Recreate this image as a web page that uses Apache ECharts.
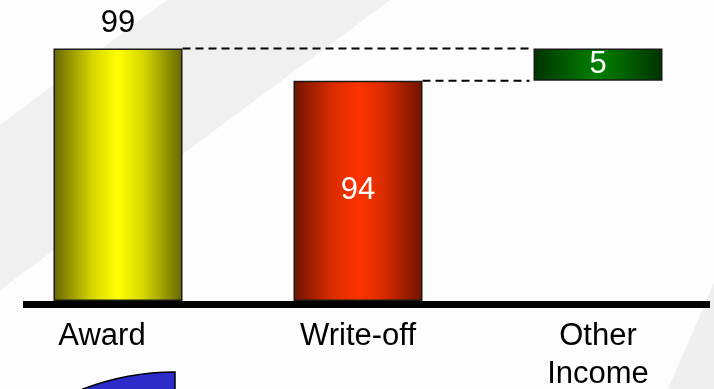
<!DOCTYPE html>
<html>
<head>
<meta charset="utf-8">
<script src="https://cdn.jsdelivr.net/npm/echarts@6/dist/echarts.min.js"></script>
<style>
  html, body { margin: 0; padding: 0; background: #fdfdfd; }
  #chart { width: 714px; height: 389px; }
</style>
</head>
<body>
<div id="chart"></div>
<script>
// chart data
const categories = ['Award', 'Write-off', 'Other\nIncome'];
const mainValues = [99, 94, '-'];      // full bars from the baseline
const floatBase = ['-', '-', 94];      // invisible offset for the floating bar
const floatValues = ['-', '-', 5];     // floating "Other Income" piece
// dashed connectors: [from category, to category, level]
const connectors = [[0, 2, 99], [1, 2, 94]];

const FONT = "'Liberation Sans', Arial, sans-serif";
const BAR_W = 129;

function hGrad(edge, mid, center) {
  return {
    type: 'linear', x: 0, y: 0, x2: 1, y2: 0,
    colorStops: [
      { offset: 0, color: edge },
      { offset: 0.3, color: mid },
      { offset: 0.5, color: center },
      { offset: 0.7, color: mid },
      { offset: 1, color: edge }
    ]
  };
}

const yellow = hGrad('#666600', '#d6d600', '#ffff00');
const red = hGrad('#6e1300', '#d92c00', '#ff3300');
const green = hGrad('#003300', '#006200', '#008000');

const chart = echarts.init(document.getElementById('chart'));

chart.setOption({
  backgroundColor: '#fdfdfd',
  animation: false,
  textStyle: { fontFamily: FONT },
  grid: { left: -2, right: -4, top: 42, bottom: 88, outerBoundsMode: 'none' },
  xAxis: {
    type: 'category',
    // the first label sits a bit left of its bar in the original
    data: categories.map((c, i) => i === 0 ? { value: c, textStyle: { padding: [0, 32, 0, 0] } } : c),
    axisLine: { show: false },
    axisTick: { show: false },
    axisLabel: {
      color: '#000', fontSize: 31, fontFamily: FONT,
      margin: 16, lineHeight: 38, interval: 0
    }
  },
  yAxis: {
    type: 'value',
    min: 60, max: 100, startValue: 60,
    show: false,
    splitLine: { show: false }
  },
  graphic: [
    // light diagonal bands in the background
    { type: 'polygon', z: -10, shape: { points: [[0, 125], [167, 0], [390, 0], [0, 290]] },
      style: { fill: '#f0f0f0' }, silent: true },
    { type: 'polygon', z: -10, shape: { points: [[714, 283], [714, 389], [668, 389]] },
      style: { fill: '#efefef' }, silent: true },
    // baseline
    { type: 'rect', z: 10, shape: { x: 23, y: 301, width: 687, height: 7 },
      style: { fill: '#000' }, silent: true },
    // blue decoration at the bottom
    { type: 'sector', z: 5,
      shape: { cx: 175, cy: 629, r: 257, r0: 0,
               startAngle: -111 * Math.PI / 180, endAngle: -Math.PI / 2, clockwise: true },
      style: { fill: '#2c2ccb', stroke: '#000', lineWidth: 1.5 }, silent: true }
  ],
  series: [
    {
      name: 'main',
      type: 'bar',
      barWidth: BAR_W,
      barGap: '-100%',
      data: mainValues.map((v, i) => {
        if (v === '-') return v;
        return {
          value: v,
          itemStyle: { color: i === 0 ? yellow : red },
          label: i === 0
            ? { show: true, position: 'top', distance: 10, color: '#000' }
            : { show: true, position: 'inside', color: '#fff' }
        };
      }),
      itemStyle: { borderColor: '#1a1a1a', borderWidth: 1.5 },
      label: { fontSize: 31, fontFamily: FONT }
    },
    {
      name: 'base',
      type: 'bar',
      stack: 'float',
      barWidth: BAR_W,
      barGap: '-100%',
      data: floatBase,
      itemStyle: { color: 'transparent', borderWidth: 0 },
      silent: true
    },
    {
      name: 'float',
      type: 'bar',
      stack: 'float',
      barWidth: BAR_W,
      barGap: '-100%',
      data: floatValues,
      itemStyle: { color: green, borderColor: '#1a1a1a', borderWidth: 1.5 },
      label: { show: true, position: 'inside', color: '#fff', fontSize: 31, fontFamily: FONT }
    },
    {
      name: 'connectors',
      type: 'custom',
      encode: { x: [0, 1], y: 2 },
      data: connectors,
      z: 1,
      renderItem: function (params, api) {
        const p1 = api.coord([api.value(0), api.value(2)]);
        const p2 = api.coord([api.value(1), api.value(2)]);
        const half = BAR_W / 2;
        return {
          type: 'line',
          shape: { x1: p1[0] + half, y1: p1[1], x2: p2[0] - half - 4, y2: p2[1] },
          style: { stroke: '#000', lineWidth: 2, lineDash: [8, 5] }
        };
      }
    }
  ]
});
</script>
</body>
</html>
